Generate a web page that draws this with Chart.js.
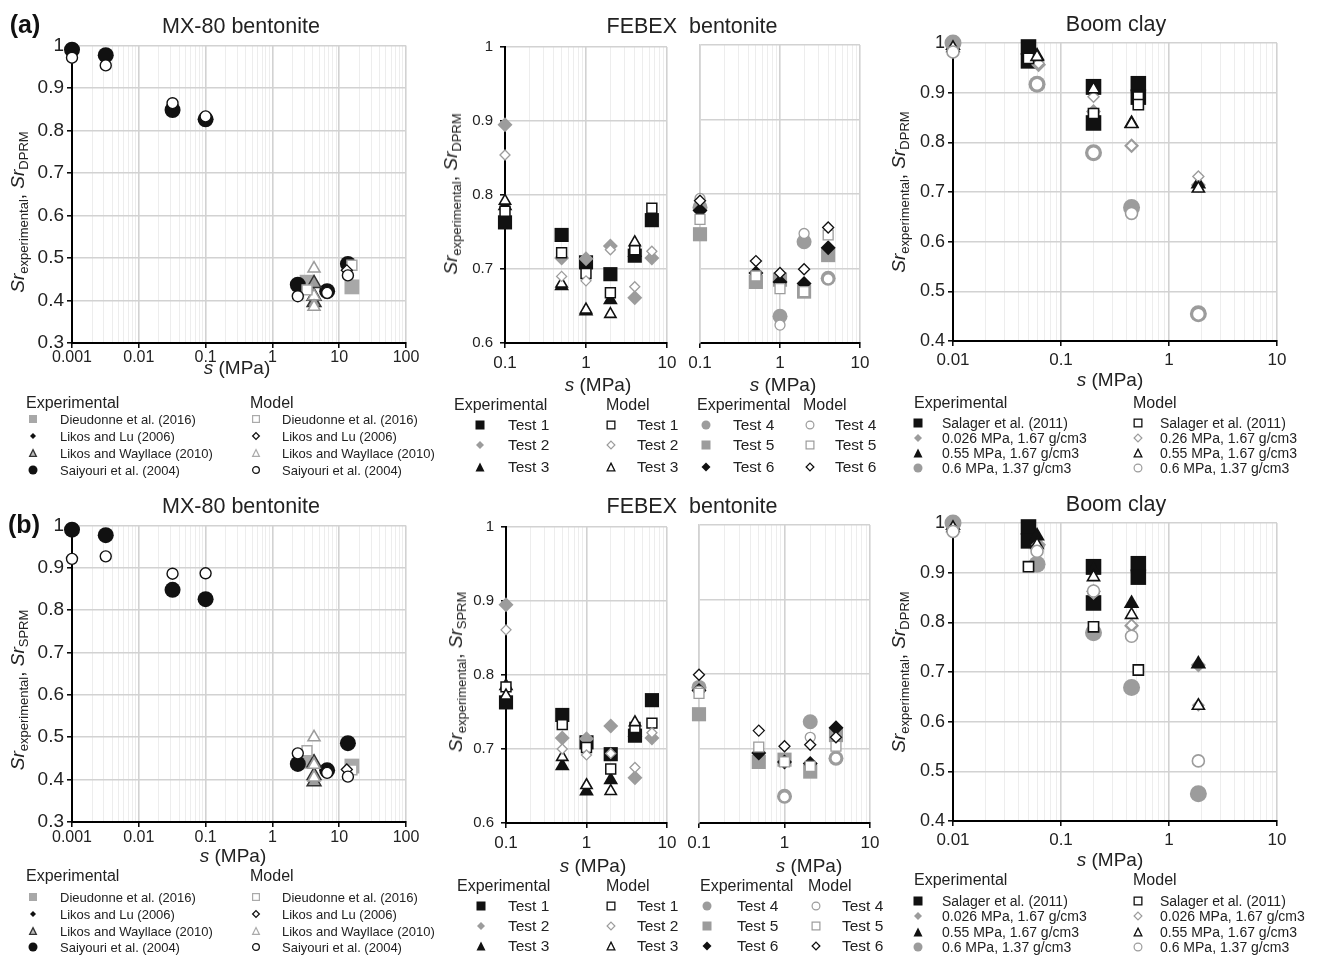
<!DOCTYPE html>
<html>
<head>
<meta charset="utf-8">
<script src="https://cdn.jsdelivr.net/npm/chart.js@4/dist/chart.umd.min.js"></script>
<style>
  body { margin: 0; background: #fff; width: 1318px; height: 957px; position: relative; overflow: hidden;
         font-family: "Liberation Sans", Arial, Helvetica, sans-serif; color: #222; }
  .wrap { position: absolute; }
  .abs { position: absolute; white-space: nowrap; line-height: 1; }
  .mid { transform: translate(-50%, -50%); }
  .left { transform: translate(0, -50%); }
  .title { font-size: 21.5px; }
  .tag { font-size: 25px; font-weight: bold; color: #111; }
  .xlab { font-size: 19px; }
  .ylab { font-size: 19px; transform: translate(-50%, -50%) rotate(-90deg); }
  .ylab sub { font-size: 13px; vertical-align: -4px; }
  .lhead { font-size: 16px; }
  .lrow { font-size: 13px; }
  .lrow-boom { font-size: 14px; }
  .lrow-big { font-size: 15.5px; }
</style>
</head>
<body>
<script>
Chart.defaults.font.family = '"Liberation Sans", Arial, Helvetica, sans-serif';
Chart.defaults.color = '#222';

// ---------- MX-80 bentonite ----------
const mxDecades = [0.001, 0.01, 0.1, 1, 10, 100];
const mxDecadeLabels = ['0.001', '0.01', '0.1', '1', '10', '100'];
const mxYTicks = [0.3, 0.4, 0.5, 0.6, 0.7, 0.8, 0.9, 1];
const mxYLabels = ['0.3', '0.4', '0.5', '0.6', '0.7', '0.8', '0.9', '1'];
const mxNames = ['Dieudonne et al. (2016)', 'Likos and Lu (2006)', 'Likos and Wayllace (2010)', 'Saiyouri et al. (2004)'];

const dieudonneS = [3.3, 15.5];
const dieudonneExp = [0.443, 0.432];
const dieudonneDprm = [0.425, 0.483];
const dieudonneSprm = [0.468, 0.423];

const likosLuS = [13];
const likosLuExp = [0.485];
const likosLuDprm = [0.471];
const likosLuSprm = [0.424];

const wayllaceS = [4.2, 4.2, 4.2];
const wayllaceExp = [0.44, 0.41, 0.395];
const wayllaceDprm = [0.475, 0.41, 0.385];
const wayllaceSprm = [0.50, 0.435, 0.405];

const saiyouriS = [0.001, 0.0032, 0.032, 0.1, 2.4, 6.6, 13.5];
const saiyouriExp = [0.99, 0.977, 0.848, 0.826, 0.437, 0.422, 0.486];
const saiyouriDprm = [0.971, 0.953, 0.864, 0.833, 0.41, 0.418, 0.459];
const saiyouriSprm = [0.921, 0.927, 0.886, 0.887, 0.462, 0.416, 0.407];

// ---------- FEBEX bentonite ----------
const febDecades = [0.1, 1, 10];
const febDecadeLabels = ['0.1', '1', '10'];
const febYTicks = [0.6, 0.7, 0.8, 0.9, 1];
const febYLabels = ['0.6', '0.7', '0.8', '0.9', '1'];
const febNamesL = ['Test 1', 'Test 2', 'Test 3'];
const febNamesR = ['Test 4', 'Test 5', 'Test 6'];

const test1S = [0.1, 0.5, 1, 2, 4, 6.5];
const test1Exp = [0.763, 0.746, 0.709, 0.693, 0.718, 0.766];
const test1Dprm = [0.778, 0.722, 0.694, 0.668, 0.726, 0.782];
const test1Sprm = [0.784, 0.733, 0.702, 0.673, 0.729, 0.735];

const test2S = [0.1, 0.5, 1, 2, 4, 6.5];
const test2Exp = [0.895, 0.715, 0.714, 0.731, 0.661, 0.715];
const test2Dprm = [0.854, 0.69, 0.684, 0.726, 0.676, 0.724];
const test2Sprm = [0.861, 0.70, 0.692, 0.694, 0.675, 0.722];

const test3S = [0.1, 0.5, 1, 2, 4];
const test3Exp = [0.785, 0.677, 0.643, 0.658, 0.722];
const test3Dprm = [0.792, 0.68, 0.645, 0.639, 0.736];
const test3Sprm = [0.772, 0.689, 0.651, 0.643, 0.736];

const test4S = [0.1, 1, 2, 4];
const test4Exp = [0.782, 0.636, 0.736, 0.687];
const test4Dprm = [0.794, 0.624, 0.747, 0.686];
const test4Sprm = [0.777, 0.635, 0.715, 0.687];

const test5S = [0.1, 0.5, 1, 2, 4];
const test5Exp = [0.746, 0.682, 0.685, 0.669, 0.718];
const test5Dprm = [0.766, 0.69, 0.673, 0.669, 0.745];
const test5Sprm = [0.774, 0.702, 0.682, 0.676, 0.703];

const test6S = [0.1, 0.5, 1, 2, 4];
const test6Exp = [0.778, 0.694, 0.682, 0.68, 0.728];
const test6Dprm = [0.791, 0.71, 0.694, 0.699, 0.755];
const test6Sprm = [0.799, 0.724, 0.703, 0.705, 0.715];

// ---------- Boom clay ----------
const boomDecades = [0.01, 0.1, 1, 10];
const boomDecadeLabels = ['0.01', '0.1', '1', '10'];
const boomYTicks = [0.4, 0.5, 0.6, 0.7, 0.8, 0.9, 1];
const boomYLabels = ['0.4', '0.5', '0.6', '0.7', '0.8', '0.9', '1'];
const boomNamesExp = ['Salager et al. (2011)', '0.026 MPa, 1.67 g/cm3', '0.55 MPa, 1.67 g/cm3', '0.6 MPa, 1.37 g/cm3'];
const boomNamesModelA = ['Salager et al. (2011)', '0.26 MPa, 1.67 g/cm3', '0.55 MPa, 1.67 g/cm3', '0.6 MPa, 1.37 g/cm3'];
const boomNamesModelB = ['Salager et al. (2011)', '0.026 MPa, 1.67 g/cm3', '0.55 MPa, 1.67 g/cm3', '0.6 MPa, 1.37 g/cm3'];

const salagerS = [0.05, 0.05, 0.2, 0.2, 0.52, 0.52];
const salagerExp = [0.992, 0.964, 0.912, 0.839, 0.918, 0.891];
const salagerDprmS = [0.05, 0.2, 0.52, 0.52];
const salagerDprm = [0.969, 0.858, 0.891, 0.876];
const salagerSprmS = [0.05, 0.2, 0.52];
const salagerSprm = [0.912, 0.791, 0.704];

const p026S = [0.062, 0.2, 0.45, 1.87];
const p026Exp = [0.956, 0.862, 0.793, 0.714];
const p026Dprm = [0.959, 0.892, 0.793, 0.731];
const p026Sprm = [0.952, 0.858, 0.794, 0.633];

const p055S = [0.01, 0.06, 0.2, 0.45, 1.87];
const p055Exp = [0.995, 0.974, 0.905, 0.838, 0.716];
const p055Dprm = [0.99, 0.972, 0.907, 0.837, 0.707];
const p055Sprm = [0.99, 0.956, 0.891, 0.815, 0.632];

const p06S = [0.01, 0.06, 0.2, 0.45, 1.87];
const p06Exp = [1.0, 0.917, 0.779, 0.669, 0.455];
const p06Dprm = [0.982, 0.917, 0.779, 0.657, 0.454];
const p06Sprm = [0.983, 0.943, 0.863, 0.772, 0.521];

// ---------- marker styles ----------
const BLACK = '#111';
const GREY = '#9c9c9c';
const mk = (pointStyle, r, fill, stroke, w) => ({ pointStyle, r, fill, stroke, w });

const styleMx = {
  dieudonne: [mk('rect', 10.5, '#a8a8a8', '#a8a8a8', 0), mk('rect', 7, '#fff', '#a8a8a8', 1.5)],
  likosLu:   [mk('rectRot', 5, BLACK, BLACK, 0),          mk('rectRot', 5.5, '#fff', BLACK, 1.3)],
  wayllace:  [mk('triangle', 8, GREY, '#333', 1.5),       mk('triangle', 7, '#fff', GREY, 1.5)],
  saiyouri:  [mk('circle', 8, BLACK, BLACK, 0),           mk('circle', 5.5, '#fff', BLACK, 1.4)]
};
const styleFeb = {
  t1: [mk('rect', 10, BLACK, BLACK, 0),     mk('rect', 7, '#fff', BLACK, 1.5)],
  t2: [mk('rectRot', 7.5, GREY, GREY, 0),   mk('rectRot', 5, '#fff', GREY, 1.3)],
  t3: [mk('triangle', 8.5, BLACK, BLACK, 0), mk('triangle', 6.5, '#fff', BLACK, 1.6)],
  t4: [mk('circle', 7.5, GREY, GREY, 0),    mk('circle', 5, '#fff', GREY, 1.3)],
  t5: [mk('rect', 10, GREY, GREY, 0),       mk('rect', 7, '#fff', GREY, 1.3)],
  t6: [mk('rectRot', 7.5, BLACK, BLACK, 0), mk('rectRot', 5.5, '#fff', BLACK, 1.3)]
};
const styleBoom = {
  salager: [mk('rect', 11, BLACK, BLACK, 0),    mk('rect', 7.2, '#fff', BLACK, 1.6)],
  p026:    [mk('rectRot', 7.5, GREY, GREY, 0),  mk('rectRot', 5.5, '#fff', GREY, 1.4)],
  p055:    [mk('triangle', 9, BLACK, BLACK, 0), mk('triangle', 7, '#fff', BLACK, 1.6)],
  p06:     [mk('circle', 8.5, GREY, GREY, 0),   mk('circle', 6, '#fff', GREY, 1.6)]
};

function pts(xs, ys) {
  return xs.map((x, i) => ({ x, y: ys[i] }));
}

function series(label, xs, ys, st, order) {
  return {
    label, data: pts(xs, ys), order, clip: false,
    pointStyle: st.pointStyle, pointRadius: st.r, pointHoverRadius: st.r,
    backgroundColor: st.fill, borderColor: st.stroke, borderWidth: st.w, pointBorderWidth: st.w
  };
}

const isDecade = v => Math.abs(Math.log10(v) - Math.round(Math.log10(v))) < 1e-6;

// decade values plus the 2..9 multiples in between, for the log grid
function logGrid(decades) {
  const out = [];
  decades.forEach((d, i) => {
    out.push(d);
    if (i < decades.length - 1) for (let k = 2; k <= 9; k++) out.push(d * k);
  });
  return out;
}

const YW = 70, XH = 44, PT = 14, PR = 28;

function panel(box, o) {
  const [L, T, R, B] = box;
  const w = R - L + YW + PR, h = B - T + PT + XH;
  const wrap = document.createElement('div');
  wrap.className = 'wrap';
  wrap.style.cssText = `left:${L - YW}px;top:${T - PT}px;width:${w}px;height:${h}px`;
  const canvas = document.createElement('canvas');
  canvas.width = w; canvas.height = h;
  canvas.style.width = w + 'px'; canvas.style.height = h + 'px';
  wrap.appendChild(canvas);
  document.body.appendChild(wrap);

  const yVisible = o.yLabels !== null;
  new Chart(canvas, {
    type: 'scatter',
    data: { datasets: o.datasets },
    options: {
      responsive: false, animation: false, events: [],
      layout: { padding: { top: PT, right: PR, left: 0, bottom: 0 } },
      plugins: { legend: { display: false }, tooltip: { enabled: false } },
      scales: {
        x: {
          type: 'logarithmic', min: o.decades[0], max: o.decades[o.decades.length - 1],
          afterBuildTicks: ax => { ax.ticks = logGrid(o.decades).map(v => ({ value: v })); },
          afterFit: ax => { ax.height = XH; },
          border: { color: '#000', width: 2 },
          grid: {
            color: c => (c.tick && isDecade(c.tick.value)) ? '#d2d2d2' : '#ededed',
            lineWidth: c => (c.tick && isDecade(c.tick.value)) ? 1.6 : 1,
            tickColor: c => (c.tick && isDecade(c.tick.value)) ? '#000' : 'rgba(0,0,0,0)',
            tickLength: 5, tickWidth: 1.5
          },
          ticks: {
            autoSkip: false, maxRotation: 0, minRotation: 0, padding: o.xPad,
            color: '#222', font: { size: o.xFont },
            callback: v => {
              const i = o.decades.findIndex(d => Math.abs(d - v) / d < 1e-6);
              return i >= 0 ? o.decadeLabels[i] : '';
            }
          }
        },
        y: {
          type: 'linear', min: o.yTicks[0], max: o.yTicks[o.yTicks.length - 1],
          afterBuildTicks: ax => { ax.ticks = o.yTicks.map(v => ({ value: v })); },
          afterFit: ax => { ax.width = YW; },
          border: yVisible ? { color: '#000', width: 2 } : { color: '#d2d2d2', width: 1.6 },
          grid: {
            color: '#d2d2d2', lineWidth: 1.6,
            drawTicks: yVisible, tickColor: '#000', tickLength: 5, tickWidth: 1.5
          },
          ticks: {
            display: yVisible, padding: o.yPad, color: '#222', font: { size: o.yFont },
            callback: v => {
              const i = o.yTicks.findIndex(t => Math.abs(t - v) < 1e-6);
              return i >= 0 && yVisible ? o.yLabels[i] : '';
            }
          }
        }
      }
    }
  });
}

// ---------- text helpers ----------
function put(html, x, y, cls) {
  const d = document.createElement('div');
  d.className = 'abs ' + cls;
  d.style.left = x + 'px';
  d.style.top = y + 'px';
  d.innerHTML = html;
  document.body.appendChild(d);
}

function svgMark(m) {
  const s = m.size, sw = m.sw || 0, W = s + 2, c = W / 2, a = 1 + sw / 2, b = W - 1 - sw / 2;
  let body;
  if (m.shape === 'circle') body = `<circle cx="${c}" cy="${c}" r="${s / 2 - sw / 2}"/>`;
  else if (m.shape === 'rect') body = `<rect x="${a}" y="${a}" width="${b - a}" height="${b - a}"/>`;
  else if (m.shape === 'diamond') body = `<polygon points="${c},${a} ${b},${c} ${c},${b} ${a},${c}"/>`;
  else body = `<polygon points="${c},${a} ${b},${b} ${a},${b}"/>`;
  return `<svg width="${W}" height="${W}" style="display:block" fill="${m.fill}" stroke="${m.stroke}" stroke-width="${sw}">${body}</svg>`;
}

const lm = (shape, size, fill, stroke, sw) => ({ shape, size, fill, stroke, sw });

function legendRows(names, marks, mx, tx, ys, rowCls) {
  names.forEach((n, i) => {
    put(svgMark(marks[i]), mx, ys[i], 'mid');
    put(n, tx, ys[i], 'left ' + rowCls);
  });
}

function yTitle(x, y, sub) {
  put(`<i>Sr</i><sub>experimental</sub>, <i>Sr</i><sub>${sub}</sub>`, x, y, 'ylab');
}

// legend marker sets
const mxLegExp = [lm('rect', 8, '#a8a8a8', 'none', 0), lm('diamond', 6, BLACK, 'none', 0),
                  lm('triangle', 8, '#bbb', '#333', 1.3), lm('circle', 9, BLACK, 'none', 0)];
const mxLegMod = [lm('rect', 8, '#fff', '#aaa', 1.2), lm('diamond', 8, '#fff', BLACK, 1.3),
                  lm('triangle', 8, '#fff', '#aaa', 1.2), lm('circle', 8, '#fff', BLACK, 1.3)];
const febLegExpL = [lm('rect', 9, BLACK, 'none', 0), lm('diamond', 8, GREY, 'none', 0), lm('triangle', 9, BLACK, 'none', 0)];
const febLegModL = [lm('rect', 9, '#fff', BLACK, 1.3), lm('diamond', 9, '#fff', GREY, 1.2), lm('triangle', 9, '#fff', BLACK, 1.3)];
const febLegExpR = [lm('circle', 9, GREY, 'none', 0), lm('rect', 9, GREY, 'none', 0), lm('diamond', 9, BLACK, 'none', 0)];
const febLegModR = [lm('circle', 9, '#fff', GREY, 1.2), lm('rect', 9, '#fff', GREY, 1.2), lm('diamond', 9, '#fff', BLACK, 1.3)];
const boomLegExp = [lm('rect', 9, BLACK, 'none', 0), lm('diamond', 8, GREY, 'none', 0),
                    lm('triangle', 9, BLACK, 'none', 0), lm('circle', 9, GREY, 'none', 0)];
const boomLegMod = [lm('rect', 9, '#fff', BLACK, 1.3), lm('diamond', 9, '#fff', GREY, 1.2),
                    lm('triangle', 9, '#fff', BLACK, 1.3), lm('circle', 9, '#fff', GREY, 1.2)];

// ---------- the two rows of panels ----------
function mxDatasets(model) {
  const m = model === 'DPRM'
    ? [dieudonneDprm, likosLuDprm, wayllaceDprm, saiyouriDprm]
    : [dieudonneSprm, likosLuSprm, wayllaceSprm, saiyouriSprm];
  return [
    series(mxNames[3] + ' model', saiyouriS, m[3], styleMx.saiyouri[1], 1),
    series(mxNames[1] + ' model', likosLuS, m[1], styleMx.likosLu[1], 2),
    series(mxNames[0] + ' model', dieudonneS, m[0], styleMx.dieudonne[1], 3),
    series(mxNames[2] + ' model', wayllaceS, m[2], styleMx.wayllace[1], 4),
    series(mxNames[2], wayllaceS, wayllaceExp, styleMx.wayllace[0], 5),
    series(mxNames[3], saiyouriS, saiyouriExp, styleMx.saiyouri[0], 6),
    series(mxNames[1], likosLuS, likosLuExp, styleMx.likosLu[0], 7),
    series(mxNames[0], dieudonneS, dieudonneExp, styleMx.dieudonne[0], 8)
  ];
}

function febDatasetsL(model) {
  const m = model === 'DPRM' ? [test1Dprm, test2Dprm, test3Dprm] : [test1Sprm, test2Sprm, test3Sprm];
  return [
    series('Test 2 model', test2S, m[1], styleFeb.t2[1], 1),
    series('Test 3 model', test3S, m[2], styleFeb.t3[1], 2),
    series('Test 1 model', test1S, m[0], styleFeb.t1[1], 3),
    series('Test 2', test2S, test2Exp, styleFeb.t2[0], 4),
    series('Test 3', test3S, test3Exp, styleFeb.t3[0], 5),
    series('Test 1', test1S, test1Exp, styleFeb.t1[0], 6)
  ];
}

function febDatasetsR(model) {
  const m = model === 'DPRM' ? [test4Dprm, test5Dprm, test6Dprm] : [test4Sprm, test5Sprm, test6Sprm];
  return [
    series('Test 6 model', test6S, m[2], styleFeb.t6[1], 1),
    series('Test 5 model', test5S, m[1], styleFeb.t5[1], 2),
    series('Test 4 model', test4S, m[0], styleFeb.t4[1], 3),
    series('Test 6', test6S, test6Exp, styleFeb.t6[0], 4),
    series('Test 4', test4S, test4Exp, styleFeb.t4[0], 5),
    series('Test 5', test5S, test5Exp, styleFeb.t5[0], 6)
  ];
}

// lower row of Boom clay uses the second model set
function boomDatasets(first) {
  return [
    series('0.6 MPa model', p06S, first ? p06Dprm : p06Sprm, styleBoom.p06[1], 1),
    series('0.55 MPa model', p055S, first ? p055Dprm : p055Sprm, styleBoom.p055[1], 2),
    series('Salager model', first ? salagerDprmS : salagerSprmS, first ? salagerDprm : salagerSprm, styleBoom.salager[1], 3),
    series('0.026 MPa model', p026S, first ? p026Dprm : p026Sprm, styleBoom.p026[1], 4),
    series('0.6 MPa', p06S, p06Exp, styleBoom.p06[0], 5),
    series('0.55 MPa', p055S, p055Exp, styleBoom.p055[0], 6),
    series('0.026 MPa', p026S, p026Exp, styleBoom.p026[0], 7),
    series('Salager', salagerS, salagerExp, styleBoom.salager[0], 8)
  ];
}

const mxOpts = { decades: mxDecades, decadeLabels: mxDecadeLabels, yTicks: mxYTicks, yLabels: mxYLabels,
                 xFont: 16, yFont: 19, yPad: 3 };
const febOpts = { decades: febDecades, decadeLabels: febDecadeLabels, yTicks: febYTicks, yLabels: febYLabels,
                  xFont: 17, yFont: 15, yPad: 7, xPad: 5 };
const boomOpts = { decades: boomDecades, decadeLabels: boomDecadeLabels, yTicks: boomYTicks, yLabels: boomYLabels,
                   xFont: 17, yFont: 18, yPad: 3, xPad: 4 };

// row (a): DPRM
panel([72, 45, 406, 343], { ...mxOpts, xPad: 0, datasets: mxDatasets('DPRM') });
panel([505, 45, 667, 343], { ...febOpts, datasets: febDatasetsL('DPRM') });
panel([700, 45, 860, 343], { ...febOpts, yLabels: null, datasets: febDatasetsR('DPRM') });
panel([953, 43, 1277, 341], { ...boomOpts, datasets: boomDatasets(true) });

// row (b): SPRM
panel([72, 525, 406, 822], { ...mxOpts, xPad: 1, datasets: mxDatasets('SPRM') });
panel([506, 525, 667, 823], { ...febOpts, datasets: febDatasetsL('SPRM') });
panel([699, 525, 870, 823], { ...febOpts, yLabels: null, datasets: febDatasetsR('SPRM') });
panel([953, 523, 1277, 821], { ...boomOpts, datasets: boomDatasets(false) });

// titles and axis labels
put('(a)', 25, 24, 'mid tag');
put('(b)', 24, 524, 'mid tag');
[[241, 27], [241, 507]].forEach(p => put('MX-80 bentonite', p[0], p[1], 'mid title'));
[[692, 27], [692, 507]].forEach(p => put('FEBEX&nbsp; bentonite', p[0], p[1], 'mid title'));
[[1116, 25], [1116, 505]].forEach(p => put('Boom clay', p[0], p[1], 'mid title'));

const sLabel = '<i>s</i> (MPa)';
[[237, 367], [598, 384], [783, 384], [1110, 379],
 [233, 855], [593, 865], [809, 865], [1110, 859]].forEach(p => put(sLabel, p[0], p[1], 'mid xlab'));

yTitle(19, 212, 'DPRM');
yTitle(452, 194, 'DPRM');
yTitle(900, 192, 'DPRM');
yTitle(19, 690, 'SPRM');
yTitle(457, 672, 'SPRM');
yTitle(900, 672, 'DPRM');

// legends, row (a)
put('Experimental', 26, 403, 'left lhead');
put('Model', 250, 403, 'left lhead');
legendRows(mxNames, mxLegExp, 33, 60, [419, 436, 453, 470], 'lrow');
legendRows(mxNames, mxLegMod, 256, 282, [419, 436, 453, 470], 'lrow');

put('Experimental', 454, 405, 'left lhead');
put('Model', 606, 405, 'left lhead');
legendRows(febNamesL, febLegExpL, 480, 508, [425, 445, 467], 'lrow-big');
legendRows(febNamesL, febLegModL, 611, 637, [425, 445, 467], 'lrow-big');
put('Experimental', 697, 405, 'left lhead');
put('Model', 803, 405, 'left lhead');
legendRows(febNamesR, febLegExpR, 706, 733, [425, 445, 467], 'lrow-big');
legendRows(febNamesR, febLegModR, 810, 835, [425, 445, 467], 'lrow-big');

put('Experimental', 914, 403, 'left lhead');
put('Model', 1133, 403, 'left lhead');
legendRows(boomNamesExp, boomLegExp, 918, 942, [423, 438, 453, 468], 'lrow-boom');
legendRows(boomNamesModelA, boomLegMod, 1138, 1160, [423, 438, 453, 468], 'lrow-boom');

// legends, row (b)
put('Experimental', 26, 876, 'left lhead');
put('Model', 250, 876, 'left lhead');
legendRows(mxNames, mxLegExp, 33, 60, [897, 914, 931, 947], 'lrow');
legendRows(mxNames, mxLegMod, 256, 282, [897, 914, 931, 947], 'lrow');

put('Experimental', 457, 886, 'left lhead');
put('Model', 606, 886, 'left lhead');
legendRows(febNamesL, febLegExpL, 481, 508, [906, 926, 946], 'lrow-big');
legendRows(febNamesL, febLegModL, 611, 637, [906, 926, 946], 'lrow-big');
put('Experimental', 700, 886, 'left lhead');
put('Model', 808, 886, 'left lhead');
legendRows(febNamesR, febLegExpR, 707, 737, [906, 926, 946], 'lrow-big');
legendRows(febNamesR, febLegModR, 816, 842, [906, 926, 946], 'lrow-big');

put('Experimental', 914, 880, 'left lhead');
put('Model', 1133, 880, 'left lhead');
legendRows(boomNamesExp, boomLegExp, 918, 942, [901, 916, 932, 947], 'lrow-boom');
legendRows(boomNamesModelB, boomLegMod, 1138, 1160, [901, 916, 932, 947], 'lrow-boom');
</script>
</body>
</html>
